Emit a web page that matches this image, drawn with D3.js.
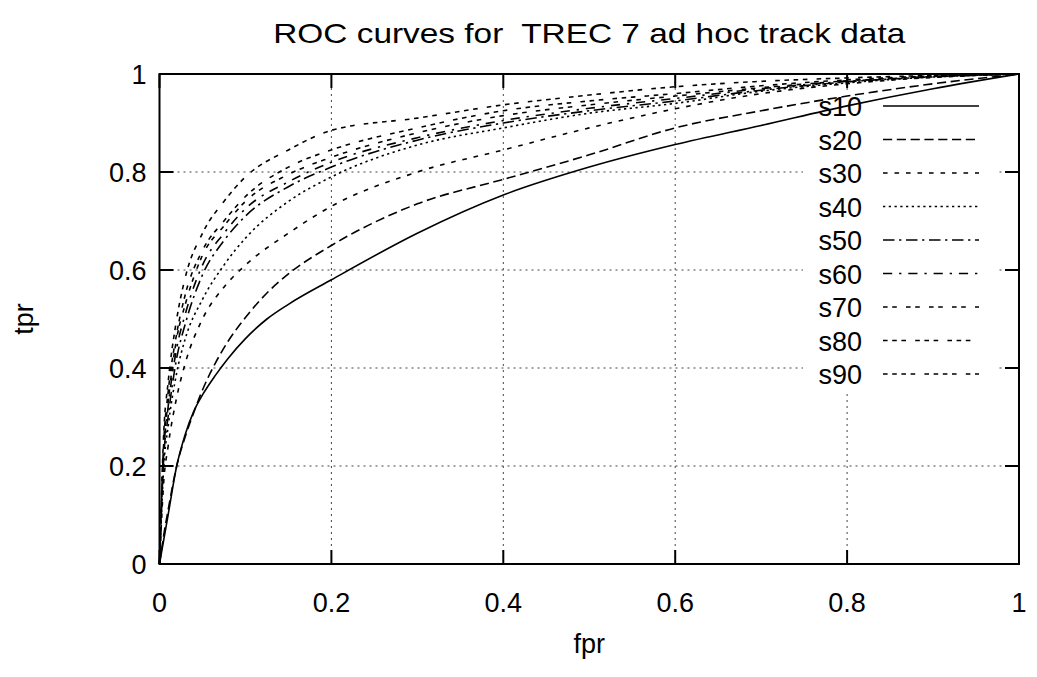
<!DOCTYPE html>
<html>
<head>
<meta charset="utf-8">
<script src="https://cdn.jsdelivr.net/npm/d3@7"></script>
<style>
  html, body { margin: 0; padding: 0; background: #fff; }
  svg { display: block; }
  text { font-family: "Liberation Sans", Arial, Helvetica, sans-serif; fill: #000; white-space: pre; }
</style>
</head>
<body>
<svg id="chart" width="1037" height="677"></svg>
<script>
// ---------------- data ----------------
const title = "ROC curves for  TREC 7 ad hoc track data";
const xLabel = "fpr";
const yLabel = "tpr";
const xTicks = [0, 0.2, 0.4, 0.6, 0.8, 1];
const yTicks = [0, 0.2, 0.4, 0.6, 0.8, 1];
const seriesNames = ["s10", "s20", "s30", "s40", "s50", "s60", "s70", "s80", "s90"];

// fpr sample points for s10 / s20
const fprLow = [0, 0.005, 0.01, 0.02, 0.03, 0.04, 0.05, 0.065, 0.08, 0.1, 0.125, 0.15, 0.2, 0.3, 0.4, 0.5, 0.6, 0.7, 0.8, 0.9, 1];
const s10 = [0, 0.05, 0.10, 0.20, 0.265, 0.312, 0.345, 0.385, 0.42, 0.46, 0.50, 0.53, 0.58, 0.675, 0.753, 0.81, 0.856, 0.895, 0.935, 0.97, 1];
const s20 = [0, 0.06, 0.11, 0.20, 0.26, 0.31, 0.355, 0.41, 0.455, 0.503, 0.553, 0.592, 0.65, 0.735, 0.785, 0.835, 0.89, 0.925, 0.955, 0.98, 1];

// fpr sample points for s30..s90
const fprHigh = [0, 0.005, 0.01, 0.02, 0.03, 0.05, 0.075, 0.1, 0.15, 0.2, 0.3, 0.4, 0.5, 0.6, 0.7, 0.8, 0.9, 1];
const s30 = [0, 0.17, 0.24, 0.34, 0.41, 0.50, 0.565, 0.61, 0.675, 0.73, 0.80, 0.845, 0.89, 0.929, 0.96, 0.98, 0.993, 1];
const s40 = [0, 0.20, 0.28, 0.39, 0.46, 0.54, 0.61, 0.665, 0.74, 0.79, 0.855, 0.89, 0.92, 0.94, 0.965, 0.982, 0.994, 1];
const s50 = [0, 0.22, 0.30, 0.42, 0.49, 0.59, 0.66, 0.71, 0.77, 0.81, 0.865, 0.90, 0.925, 0.945, 0.967, 0.984, 0.994, 1];
const s60 = [0, 0.23, 0.32, 0.44, 0.51, 0.61, 0.675, 0.725, 0.78, 0.82, 0.87, 0.905, 0.93, 0.95, 0.97, 0.985, 0.995, 1];
const s70 = [0, 0.24, 0.33, 0.46, 0.53, 0.63, 0.69, 0.74, 0.795, 0.83, 0.88, 0.915, 0.937, 0.955, 0.972, 0.986, 0.995, 1];
const s80 = [0, 0.25, 0.35, 0.47, 0.55, 0.64, 0.70, 0.75, 0.81, 0.845, 0.89, 0.925, 0.945, 0.96, 0.976, 0.988, 0.996, 1];
const s90 = [0, 0.27, 0.37, 0.50, 0.585, 0.675, 0.74, 0.79, 0.845, 0.885, 0.91, 0.937, 0.957, 0.974, 0.985, 0.992, 0.997, 1];

const seriesTpr = [s10, s20, s30, s40, s50, s60, s70, s80, s90];
const seriesFpr = [fprLow, fprLow, fprHigh, fprHigh, fprHigh, fprHigh, fprHigh, fprHigh, fprHigh];

// ---------------- styles ----------------
const dl = 2.3;
const dashBase = [null, [4,2], [2,3], [1,1.5], [5,2,1,2], [4,3,1,3], [2,2,2,4], [2,2,2,2,2,4], [2,2,2,2,2,2,2,4]];
const dashes = dashBase.map(d => d ? d.map(v => (v * dl).toFixed(2)).join(",") : null);

// ---------------- layout ----------------
const svg = d3.select("#chart");
const pLeft = 159.5, pRight = 1019, pTop = 74, pBottom = 564;
const x = d3.scaleLinear().domain([0, 1]).range([pLeft, pRight]);
const y = d3.scaleLinear().domain([0, 1]).range([pBottom, pTop]);
const tickLen = 14;
const fontSize = 27;

// grid
const grid = svg.append("g");
xTicks.filter(t => t > 0 && t < 1).forEach(t => {
  grid.append("line").attr("x1", x(t)).attr("x2", x(t)).attr("y1", y(0)).attr("y2", y(1))
    .attr("stroke", "#444").attr("stroke-width", 1).attr("stroke-dasharray", "2,4");
});
yTicks.filter(t => t > 0 && t < 1).forEach(t => {
  grid.append("line").attr("x1", x(0)).attr("x2", x(1)).attr("y1", y(t)).attr("y2", y(t))
    .attr("stroke", "#444").attr("stroke-width", 1).attr("stroke-dasharray", "2,4");
});

// legend background (blanks the grid)
const legX0 = 803, legX1 = 997, legY0 = 90, legRow = 33.5, legFirst = 106;
svg.append("rect").attr("x", legX0).attr("y", legY0).attr("width", legX1 - legX0)
  .attr("height", legFirst + legRow * (seriesNames.length - 1) + 18 - legY0).attr("fill", "#fff");

// ticks (inward, mirrored)
const ticks = svg.append("g").attr("stroke", "#000").attr("stroke-width", 2);
xTicks.forEach(t => {
  ticks.append("line").attr("x1", x(t)).attr("x2", x(t)).attr("y1", y(0)).attr("y2", y(0) - tickLen);
  ticks.append("line").attr("x1", x(t)).attr("x2", x(t)).attr("y1", y(1)).attr("y2", y(1) + tickLen);
});
yTicks.forEach(t => {
  ticks.append("line").attr("x1", x(0)).attr("x2", x(0) + tickLen).attr("y1", y(t)).attr("y2", y(t));
  ticks.append("line").attr("x1", x(1)).attr("x2", x(1) - tickLen).attr("y1", y(t)).attr("y2", y(t));
});

// curves
const line = d3.line().x(d => x(d[0])).y(d => y(d[1])).curve(d3.curveMonotoneX);
const curves = svg.append("g");
seriesNames.forEach((name, i) => {
  const pts = seriesFpr[i].map((f, k) => [f, seriesTpr[i][k]]);
  const p = curves.append("path").datum(pts).attr("d", line)
    .attr("fill", "none").attr("stroke", "#000").attr("stroke-width", 1.6);
  if (dashes[i]) p.attr("stroke-dasharray", dashes[i]);
});

// frame
svg.append("rect").attr("x", pLeft).attr("y", pTop).attr("width", pRight - pLeft).attr("height", pBottom - pTop)
  .attr("fill", "none").attr("stroke", "#000").attr("stroke-width", 2);

// tick labels
xTicks.forEach(t => {
  svg.append("text").attr("x", x(t)).attr("y", y(0) + 48).attr("text-anchor", "middle")
    .attr("font-size", fontSize).text(d3.format("~g")(t));
});
yTicks.forEach(t => {
  svg.append("text").attr("x", x(0) - 13).attr("y", y(t) + 10).attr("text-anchor", "end")
    .attr("font-size", fontSize).text(d3.format("~g")(t));
});

// titles
svg.append("text").attr("x", (pLeft + pRight) / 2).attr("y", 43).attr("text-anchor", "middle")
  .attr("font-size", 28).attr("textLength", 632).attr("lengthAdjust", "spacingAndGlyphs").text(title);
svg.append("text").attr("x", (pLeft + pRight) / 2).attr("y", 653).attr("text-anchor", "middle")
  .attr("font-size", fontSize).text(xLabel);
svg.append("text").attr("transform", "translate(33," + ((pTop + pBottom) / 2) + ") rotate(-90)")
  .attr("text-anchor", "middle").attr("font-size", fontSize).text(yLabel);

// legend
const leg = svg.append("g");
seriesNames.forEach((name, i) => {
  const cy = legFirst + legRow * i;
  leg.append("text").attr("x", 862).attr("y", cy + 10).attr("text-anchor", "end")
    .attr("font-size", fontSize).text(name);
  const l = leg.append("line").attr("x1", 883).attr("x2", 979).attr("y1", cy).attr("y2", cy)
    .attr("stroke", "#000").attr("stroke-width", 1.3);
  if (dashes[i]) l.attr("stroke-dasharray", dashes[i]);
});
</script>
</body>
</html>
